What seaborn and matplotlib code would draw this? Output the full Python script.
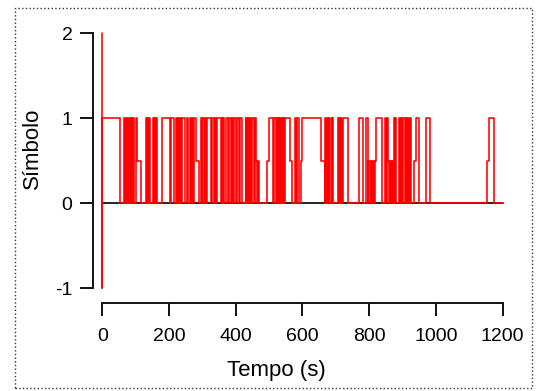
import matplotlib
matplotlib.use("Agg")
import matplotlib.pyplot as plt
import seaborn as sns
from matplotlib.patches import Rectangle

# Série de símbolos (instantes de transição, nível mantido até o próximo instante)
tempo = [0, 0, 0, 52,
         65, 68, 70, 73, 76, 79,
         83, 86, 88, 91, 93, 95,
         101, 105, 115,
         130, 133, 135, 138, 140, 143,
         151, 154, 156, 159, 162, 165,
         178, 202,
         205, 215,
         220, 223, 226, 229, 232, 235,
         240, 248,
         255, 258, 262, 266, 269, 272,
         275, 280, 289,
         295, 298, 300, 305, 308, 310,
         313, 326,
         330, 334, 337, 340, 344,
         355, 359, 361, 363, 365,
         370, 377, 380, 385, 388, 392, 394, 400,
         404, 410, 413, 419,
         430, 432, 434, 436, 438, 440, 442, 445,
         450, 455, 457, 460, 464, 466, 470,
         494, 500, 512,
         515, 520, 523, 526, 528, 531, 533, 535, 538, 541, 543, 545, 548,
         553, 563, 570,
         577, 582, 584, 589,
         596, 600, 657, 667,
         668, 672, 675, 677, 679, 681, 685, 688, 690, 692,
         707, 709, 711, 713, 716, 718,
         722, 737,
         770, 782,
         791, 796, 798, 804, 806, 808,
         812, 816, 818, 822, 838,
         847, 851, 853, 857, 860, 862, 866, 868, 871,
         874, 877, 878, 881,
         891, 893, 895, 899, 901, 907,
         911, 914, 916, 920, 922, 926,
         934, 941, 951,
         971, 982,
         1153, 1160, 1175, 1200]
simbolo = [2, -1, 1, 0,
           1, 0, 1, 0, 1, 0,
           1, 0, 1, 0, 1, 0,
           1, 0.5, 0,
           1, 0, 1, 0, 1, 0,
           1, 0, 1, 0, 1, 0,
           1, 0,
           1, 0,
           1, 0, 1, 0, 1, 0,
           1, 0,
           1, 0, 1, 0, 1, 0,
           1, 0.5, 0,
           1, 0, 1, 0, 1, 0,
           1, 0,
           1, 0, 1, 0, 1,
           0, 1, 0, 1, 0,
           1, 0, 1, 0, 1, 0, 1, 0,
           1, 0, 1, 0,
           1, 0, 1, 0, 1, 0, 1, 0,
           1, 0, 1, 0.5, 0, 0.5, 0,
           0.5, 1, 0,
           1, 0, 1, 0, 1, 0, 1, 0, 1, 0, 1, 0, 1,
           1, 0.5, 0,
           1, 0, 1, 0,
           0.5, 1, 0.5, 0,
           1, 0, 1, 0, 1, 0, 1, 0, 1, 0,
           1, 0, 1, 0, 1, 0,
           1, 0,
           1, 0,
           1, 0, 0.5, 0, 0.5, 0,
           0.5, 0, 0.5, 1, 0,
           1, 0, 1, 0.5, 0, 0.5, 0, 0.5, 0,
           1, 0, 1, 0,
           1, 0, 1, 0, 1, 0,
           1, 0, 1, 0, 1, 0,
           0.5, 1, 0,
           1, 0,
           0.5, 1, 0, 0]

base_tempo = [0, 1200]
base_simbolo = [0, 0]

xticks = [0, 200, 400, 600, 800, 1000, 1200]
yticks = [-1, 0, 1, 2]

sns.set_style("white")
plt.rcParams['font.family'] = ['Liberation Sans', 'DejaVu Sans']
plt.rcParams['axes.unicode_minus'] = False

fig = plt.figure(figsize=(5.36, 3.91), dpi=100)
ax = fig.add_axes([0.1912, 0.2634, 0.7463, 0.6522])

sns.lineplot(x=base_tempo, y=base_simbolo, color='black', lw=1.2, ax=ax)
sns.lineplot(x=tempo, y=simbolo, estimator=None, sort=False,
             drawstyle='steps-post', color='#ff0000', lw=1.15, ax=ax)
for ln in ax.lines:
    ln.set_clip_on(False)

ax.set_xlim(0, 1200)
ax.set_ylim(-1, 2)
ax.set_xticks(xticks)
ax.set_yticks(yticks)

for s in ['top', 'right']:
    ax.spines[s].set_visible(False)
ax.spines['left'].set_position(('outward', 7))
ax.spines['bottom'].set_position(('outward', 11))
for s in ['left', 'bottom']:
    ax.spines[s].set_linewidth(1.4)
    ax.spines[s].set_color('#111111')

ax.tick_params(axis='y', pad=5)
ax.tick_params(axis='x', pad=8)
ax.tick_params(direction='out', length=9.5, width=1.4, color='#111111',
               labelsize=14, labelcolor='black', left=True, bottom=True)

ax.set_xlabel('Tempo (s)', fontsize=16, color='black', va='center')
ax.set_ylabel('Símbolo', fontsize=16, color='black', va='center')
ax.xaxis.set_label_coords(0.434, -0.325)
ax.yaxis.set_label_coords(-0.174, 0.547)

# moldura pontilhada em volta da figura
fig.patches.append(Rectangle((0.028, 0.008), 0.965, 0.972, transform=fig.transFigure,
                             fill=False, linestyle=':', lw=1.0, edgecolor='#333333'))

plt.savefig('out.png', dpi=100)
